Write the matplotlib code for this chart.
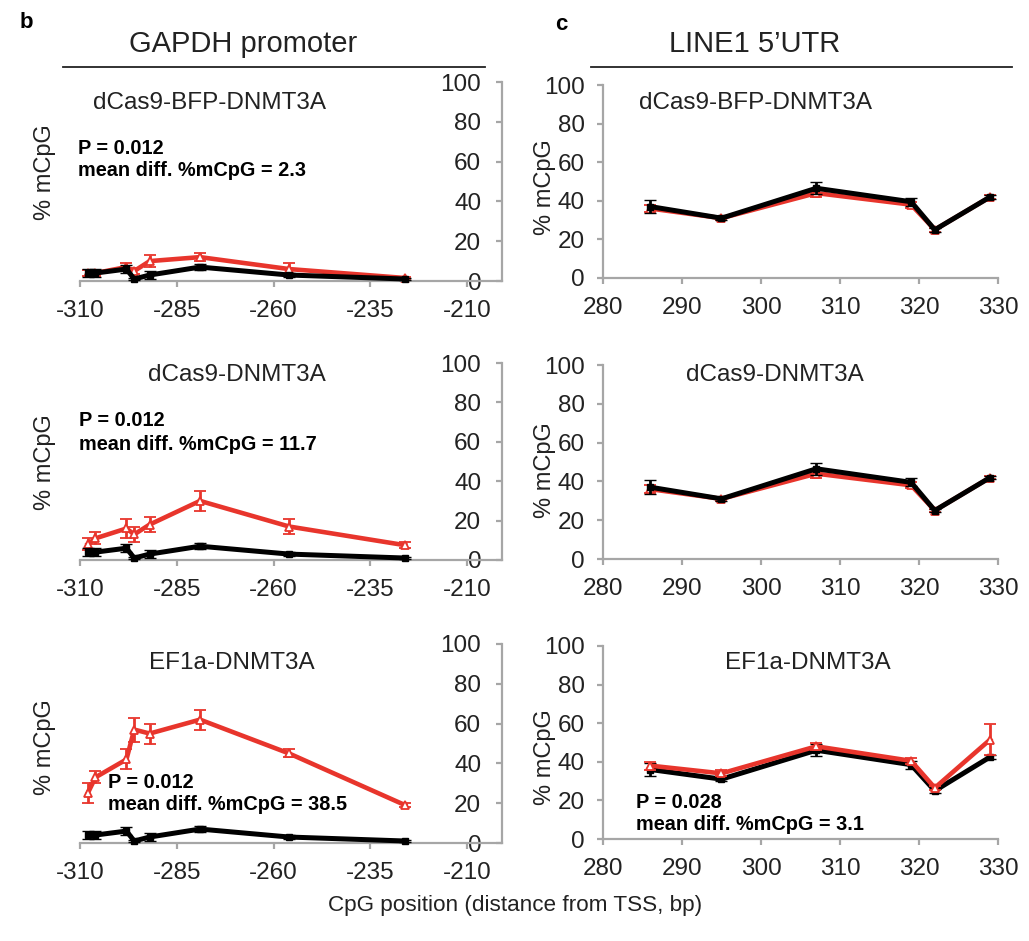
import matplotlib
matplotlib.use("Agg")
import matplotlib.pyplot as plt

plt.rcParams['font.family'] = ['Liberation Sans', 'DejaVu Sans']
plt.rcParams['axes.unicode_minus'] = False

# GAPDH promoter CpG positions and % mCpG
pos_gapdh = [-308, -306, -298, -296, -292, -279, -256, -226]
ctrl_gapdh = [4, 4, 6, 1, 3, 7, 3, 1]
ctrl_gapdh_err = [2, 2, 2, 0.5, 2, 1.5, 1, 0.5]
bfp_gapdh = [4, 4, 7, 5, 10, 12, 6, 1.5]
bfp_gapdh_err = [1.5, 1.5, 2, 1.5, 3, 2, 3, 0.5]
dcas_gapdh = [8, 11, 16, 13, 18, 30, 17, 7.5]
dcas_gapdh_err = [3, 3, 5, 4, 4, 5, 4, 1.5]
ef1a_gapdh = [25, 33, 42, 57, 55, 62, 45, 19]
ef1a_gapdh_err = [5, 3, 5, 6, 5, 5, 2, 1]

# LINE1 5'UTR CpG positions and % mCpG
pos_line1 = [286, 295, 307, 319, 322, 329]
ctrl_line1 = [37, 31, 46.5, 39.5, 25, 42]
ctrl_line1_err = [3.5, 1, 3, 2, 1, 1]
bfp_line1 = [36, 31, 44, 38, 25, 42]
bfp_line1_err = [2, 1, 2, 1.5, 1, 1]
dcas_line1 = [36, 31, 44, 38, 25, 42]
dcas_line1_err = [2, 1, 2, 1.5, 1, 1]
ctrl2_line1 = [36, 31, 46, 38.5, 25, 42.5]
ctrl2_line1_err = [3.5, 1, 3, 2, 1, 1]
ef1a_line1 = [38, 34, 48, 40.5, 26.5, 51.5]
ef1a_line1_err = [2, 1.5, 2, 1.5, 1, 8]

titles = ["dCas9-BFP-DNMT3A", "dCas9-DNMT3A", "EF1a-DNMT3A"]

W, H = 1029, 941
RED = '#e8352c'
GRAY = '#a6a6a6'
TXT = '#222222'

fig = plt.figure(figsize=(W / 100, H / 100), dpi=100)


def box(l, t, r, b):
    return [l / W, 1 - b / H, (r - l) / W, (b - t) / H]


def ftext(x, y, s, **kw):
    fig.text(x / W, 1 - y / H, s, **kw)


def draw(ax, x, red, rerr, black, berr, red_top=False):
    zr, zb = (3, 2) if red_top else (2, 3)
    ax.errorbar(x, red, yerr=rerr, color=RED, lw=3.3, elinewidth=2, capsize=4,
                capthick=1.8, marker='^', ms=5.5, mfc='white', mec=RED, mew=1.3,
                clip_on=False, zorder=zr)
    ax.errorbar(x, black, yerr=berr, color='black', lw=3.6, elinewidth=2, capsize=4,
                capthick=1.8, marker='s', ms=5, mew=1, clip_on=False, zorder=zb)


def style(ax, ypad):
    for s in ['top', 'right']:
        ax.spines[s].set_visible(False)
    for s in ['left', 'bottom']:
        ax.spines[s].set_color(GRAY)
        ax.spines[s].set_linewidth(1.6)
    ax.set_ylim(0, 100)
    ax.set_yticks([0, 20, 40, 60, 80, 100])
    ax.tick_params(colors=GRAY, labelcolor=TXT, labelsize=17.5, width=1.6,
                   length=4, direction='out')
    ax.tick_params(axis='x', pad=10)
    ax.tick_params(axis='y', pad=ypad)
    ax.patch.set_alpha(0)


# left column: GAPDH promoter
left_boxes = [box(80, 82, 502, 281), box(80, 363, 502, 560), box(80, 644, 502, 843)]
left_data = [(bfp_gapdh, bfp_gapdh_err), (dcas_gapdh, dcas_gapdh_err), (ef1a_gapdh, ef1a_gapdh_err)]
for b, (rv, re) in zip(left_boxes, left_data):
    ax = fig.add_axes(b)
    style(ax, 11)
    ax.spines['left'].set_position(('axes', 1.0))
    ax.set_xlim(-310, -201)
    ax.set_xticks([-310, -285, -260, -235, -210])
    draw(ax, pos_gapdh, rv, re, ctrl_gapdh, ctrl_gapdh_err)

# right column: LINE1 5'UTR
right_boxes = [box(603, 85, 998, 278), box(603, 365, 998, 559), box(603, 646, 998, 839)]
right_data = [(bfp_line1, bfp_line1_err, ctrl_line1, ctrl_line1_err, False),
              (dcas_line1, dcas_line1_err, ctrl_line1, ctrl_line1_err, False),
              (ef1a_line1, ef1a_line1_err, ctrl2_line1, ctrl2_line1_err, True)]
for b, (rv, re, kv, ke, rt) in zip(right_boxes, right_data):
    ax = fig.add_axes(b)
    style(ax, 9)
    ax.set_xlim(280, 330)
    ax.set_xticks([280, 290, 300, 310, 320, 330])
    draw(ax, pos_line1, rv, re, kv, ke, red_top=rt)

# headers
ftext(20, 22, "b", fontsize=16, fontweight='bold', ha='left', va='center')
ftext(555, 24, "c", fontsize=16, fontweight='bold', ha='left', va='center')
ftext(243, 44, "GAPDH promoter", fontsize=21, ha='center', va='center', color=TXT)
ftext(755, 44, "LINE1 5\u2019UTR", fontsize=21, ha='center', va='center', color=TXT)
fig.add_artist(plt.Line2D([63 / W, 485 / W], [1 - 67 / H, 1 - 67 / H], color=TXT, lw=1.3))
fig.add_artist(plt.Line2D([591 / W, 1012 / W], [1 - 67 / H, 1 - 67 / H], color=TXT, lw=1.3))

# panel subtitles
for (x, y), t in zip([(210, 103), (237, 375), (232, 663)], titles):
    ftext(x, y, t, fontsize=17.5, ha='center', va='center', color=TXT)
for (x, y), t in zip([(755, 103), (775, 375), (808, 663)], titles):
    ftext(x, y, t, fontsize=17.5, ha='center', va='center', color=TXT)

# stats
stats = [(78, 148, "P = 0.012", "mean diff. %mCpG = 2.3"),
         (79, 421, "P = 0.012", "mean diff. %mCpG = 11.7"),
         (108, 782, "P = 0.012", "mean diff. %mCpG = 38.5"),
         (636, 802, "P = 0.028", "mean diff. %mCpG = 3.1")]
for x, y, p, m in stats:
    ftext(x, y, p, fontsize=14.3, fontweight='bold', ha='left', va='center')
    ftext(x, y + 23, m, fontsize=14.3, fontweight='bold', ha='left', va='center')

# y labels
for x, y in [(45, 172), (45, 462), (45, 747), (545, 187), (545, 470), (545, 757)]:
    ftext(x, y, "% mCpG", fontsize=17, rotation=90, ha='center', va='center', color=TXT)

ftext(515, 905, "CpG position (distance from TSS, bp)", fontsize=16.2, ha='center', va='center',
      color=TXT)

plt.savefig("out.png", dpi=100)
